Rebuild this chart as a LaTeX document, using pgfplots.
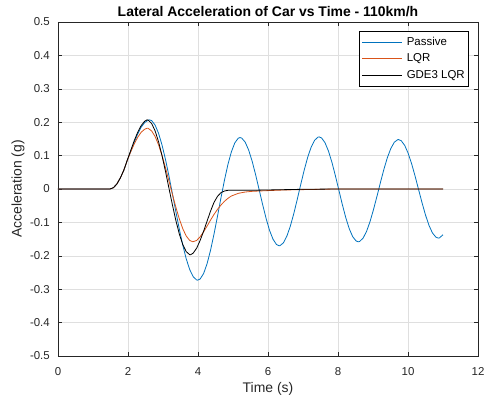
\documentclass[border=0pt]{standalone}
\usepackage{pgfplots}
\pgfplotsset{compat=1.18}
\usepackage{fontspec}
\setmainfont{Liberation Sans}
\usetikzlibrary{calc}
\definecolor{mblue}{rgb}{0,0.447,0.741}
\definecolor{morange}{rgb}{0.85,0.325,0.098}
\definecolor{axgray}{rgb}{0.15,0.15,0.15}
\definecolor{gridgray}{RGB}{223,223,223}
\begin{document}
\begin{tikzpicture}
\begin{axis}[
  name=ax,
  scale only axis, width=420bp, height=334bp,
  xmin=0, xmax=12, ymin=-0.5, ymax=0.5,
  xtick={0,2,4,6,8,10,12},
  xticklabels={0,2,4,6,8,10,12},
  ytick={-0.5,-0.4,-0.3,-0.2,-0.1,0,0.1,0.2,0.3,0.4,0.5},
  yticklabels={-0.5,-0.4,-0.3,-0.2,-0.1,0,0.1,0.2,0.3,0.4,0.5},
  tick pos=both, tick align=inside,
  major tick length=4bp,
  tick style={axgray, line width=0.5bp},
  axis line style={axgray, line width=0.6bp},
  grid=major,
  major grid style={gridgray, line width=0.5bp},
  xticklabel style={anchor=base, yshift=-19bp, font=\fontsize{11.5}{13}\selectfont, text=axgray},
  yticklabel style={anchor=east, inner sep=0pt, xshift=-8bp, font=\fontsize{11.5}{13}\selectfont, text=axgray},
  title={Lateral Acceleration of Car vs Time - 110km/h},
  every axis title/.style={at={(rel axis cs:0.5,1)}, anchor=base, yshift=5bp, font=\fontsize{14}{16}\selectfont\bfseries},
  xlabel={Time (s)},
  every axis x label/.style={at={(rel axis cs:0.5,0)}, anchor=base, yshift=-36bp, font=\fontsize{14}{16}\selectfont, text=axgray},
  ylabel={Acceleration (g)},
  every axis y label/.style={at={(rel axis cs:0,0.5)}, xshift=-40bp, rotate=90, anchor=center, font=\fontsize{14}{16}\selectfont, text=axgray},
  legend style={at={(1,1)}, xshift=-10bp, yshift=-9bp, anchor=north east,
    draw=black, line width=0.5bp, inner xsep=3bp, inner ysep=5bp,
    row sep=4.5bp, column sep=4bp,
    font=\fontsize{11.5}{12}\selectfont,
    nodes={inner sep=0pt, text height=9bp, text depth=3bp},
    cells={anchor=west}},
  legend image code/.code={\draw[#1] (0bp,0bp) -- (40bp,0bp);},
]
\addplot[mblue, line width=0.8bp] coordinates {
(0,0) (1.486,0) (1.585,0.0039) (1.684,0.0153) (1.783,0.0334) (1.882,0.0567) (1.981,0.086) (2.080,0.113) (2.179,0.140) (2.278,0.165) (2.377,0.185) (2.477,0.199) (2.576,0.206) (2.615,0.207) (2.675,0.2048) (2.774,0.1915) (2.873,0.1668) (2.972,0.1318) (3.071,0.0885) (3.170,0.0392) (3.269,-0.0140) (3.368,-0.0682) (3.467,-0.1204) (3.566,-0.1684) (3.665,-0.2096) (3.764,-0.2413) (3.863,-0.2627) (3.962,-0.2724) (3.992,-0.273) (4.061,-0.2695) (4.161,-0.2529) (4.260,-0.2234) (4.359,-0.1831) (4.458,-0.1347) (4.557,-0.0815) (4.656,-0.0266) (4.755,0.0259) (4.854,0.0730) (4.953,0.1110) (5.052,0.1382) (5.151,0.1522) (5.201,0.154) (5.250,0.1524) (5.349,0.1401) (5.448,0.1164) (5.547,0.0832) (5.646,0.0428) (5.745,-0.0012) (5.845,-0.0459) (5.944,-0.0876) (6.043,-0.1235) (6.142,-0.1501) (6.241,-0.166) (6.320,-0.170) (6.340,-0.1698) (6.439,-0.1613) (6.538,-0.1414) (6.637,-0.1116) (6.736,-0.0741) (6.835,-0.0314) (6.934,0.013) (7.033,0.0559) (7.132,0.0942) (7.231,0.1249) (7.330,0.1458) (7.430,0.1554) (7.459,0.156) (7.529,0.153) (7.628,0.1388) (7.727,0.1138) (7.826,0.080) (7.925,0.040) (8.024,-0.0032) (8.123,-0.0462) (8.222,-0.0857) (8.321,-0.1189) (8.420,-0.1428) (8.519,-0.1558) (8.579,-0.158) (8.618,-0.1571) (8.717,-0.1471) (8.816,-0.1268) (8.915,-0.0977) (9.014,-0.0617) (9.114,-0.0215) (9.213,0.0198) (9.312,0.0592) (9.411,0.0941) (9.510,0.1215) (9.609,0.140) (9.708,0.1478) (9.728,0.148) (9.807,0.1445) (9.906,0.1305) (10.005,0.1069) (10.104,0.0755) (10.203,0.0384) (10.302,-0.0015) (10.401,-0.0412) (10.500,-0.0779) (10.599,-0.1088) (10.698,-0.1315) (10.798,-0.1443) (10.867,-0.147) (10.897,-0.1465) (11.0,-0.137)
};
\addlegendentry{Passive}
\addplot[morange, line width=0.8bp] coordinates {
(0,0) (1.486,0) (1.585,0.0039) (1.684,0.0153) (1.783,0.0334) (1.882,0.0567) (1.981,0.086) (2.080,0.112) (2.179,0.135) (2.278,0.155) (2.377,0.170) (2.477,0.179) (2.546,0.182) (2.576,0.1816) (2.675,0.1739) (2.774,0.1572) (2.873,0.1322) (2.972,0.1004) (3.071,0.0638) (3.170,0.0241) (3.269,-0.0162) (3.368,-0.0548) (3.467,-0.0899) (3.566,-0.1192) (3.665,-0.141) (3.764,-0.1541) (3.853,-0.158) (3.962,-0.154) (4.061,-0.143) (4.161,-0.128) (4.260,-0.111) (4.359,-0.093) (4.458,-0.076) (4.557,-0.061) (4.656,-0.048) (4.755,-0.037) (4.854,-0.028) (4.953,-0.021) (5.151,-0.013) (5.349,-0.009) (5.547,-0.007) (5.745,-0.006) (5.944,-0.005) (6.439,-0.003) (6.934,-0.002) (7.430,-0.001) (7.925,0) (11.0,0)
};
\addlegendentry{LQR}
\addplot[black, line width=0.8bp] coordinates {
(0,0) (1.486,0) (1.585,0.0039) (1.684,0.0153) (1.783,0.0334) (1.882,0.0567) (1.981,0.087) (2.080,0.116) (2.179,0.145) (2.278,0.170) (2.377,0.190) (2.477,0.203) (2.546,0.207) (2.576,0.2064) (2.675,0.1963) (2.774,0.1742) (2.873,0.1414) (2.972,0.0999) (3.071,0.0527) (3.170,0.0025) (3.269,-0.0476) (3.368,-0.0943) (3.467,-0.135) (3.566,-0.1667) (3.665,-0.1878) (3.764,-0.1967) (3.784,-0.197) (3.863,-0.192) (3.962,-0.177) (4.061,-0.154) (4.161,-0.126) (4.260,-0.096) (4.359,-0.066) (4.458,-0.040) (4.557,-0.022) (4.656,-0.011) (4.755,-0.006) (4.854,-0.004) (4.953,-0.004) (5.448,-0.004) (5.944,-0.003) (6.439,-0.002) (6.934,-0.001) (7.925,0) (11.0,0)
};
\addlegendentry{GDE3 LQR}
\end{axis}
\pgfresetboundingbox
\path ($(ax.south west)+(-58bp,-45bp)$) rectangle ($(ax.north east)+(6bp,22bp)$);
\end{tikzpicture}
\end{document}
